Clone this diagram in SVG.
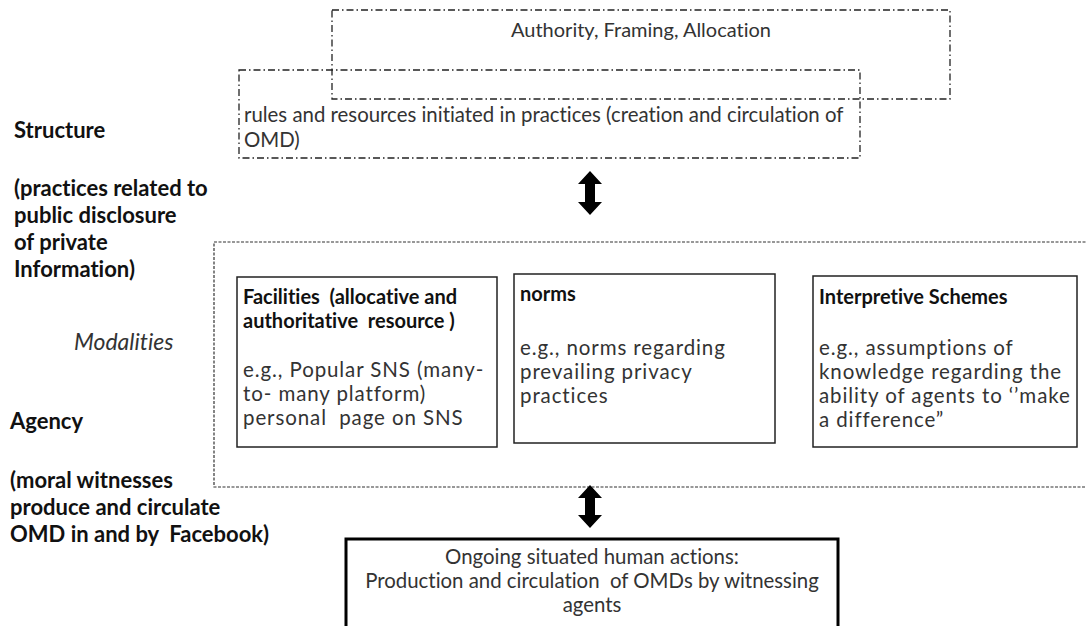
<svg xmlns="http://www.w3.org/2000/svg" width="1086" height="626" viewBox="0 0 1086 626">
<style>
text{font-family:Lato,"Open Sans","Liberation Sans",sans-serif;fill:#333;white-space:pre;font-variant-ligatures:none;font-feature-settings:"liga" 0,"dlig" 0;}
.t{font-size:20px;}
.r{font-size:20.4px;}
.bt{font-size:20.5px;letter-spacing:0.9px;}
.b{font-size:20px;font-weight:bold;fill:#111;}
.lb{font-size:22px;font-weight:bold;fill:#111;}
.it{font-size:23px;font-style:italic;}
.dd{fill:none;stroke:#222;stroke-width:1.3;stroke-dasharray:7 3 1.5 3;}
.dot{fill:none;stroke:#333;stroke-width:1.2;stroke-dasharray:3 1.5;}
.box{fill:#fff;stroke:#222;stroke-width:1.5;}
.thick{fill:#fff;stroke:#000;stroke-width:3;}
.arr{fill:#000;}
</style>
<g id="authority">
<rect class="dd" x="332" y="10" width="618" height="89"/>
<text class="t" x="641" y="37" text-anchor="middle">Authority, Framing, Allocation</text>
</g>
<g id="rules">
<rect class="dd" x="239" y="70" width="621" height="88"/>
<text class="r" x="244" y="122">rules and resources initiated in practices (creation and circulation of</text>
<text class="r" x="244" y="147">OMD)</text>
</g>
<g id="labels">
<text class="lb" x="14" y="138">Structure</text>
<text class="lb" x="14" y="196">(practices related to</text>
<text class="lb" x="14" y="223">public disclosure</text>
<text class="lb" x="14" y="250">of private</text>
<text class="lb" x="14" y="277">Information)</text>
<text class="it" x="74" y="350">Modalities</text>
<text class="lb" x="10" y="429">Agency</text>
<text class="lb" x="10" y="488">(moral witnesses</text>
<text class="lb" x="10" y="515">produce and circulate</text>
<text class="lb" x="10" y="542">OMD in and by  Facebook)</text>
</g>
<g id="modalities">
<path class="dot" d="M1090 242 H214 V487 H1090"/>
</g>
<g id="facilities">
<rect class="box" x="237" y="277" width="260" height="170"/>
<text class="b" x="243" y="304">Facilities  (allocative and</text>
<text class="b" x="243" y="328">authoritative  resource )</text>
<text class="bt" x="243" y="377">e.g., Popular SNS (many-</text>
<text class="bt" x="243" y="401">to- many platform)</text>
<text class="bt" x="243" y="425">personal  page on SNS</text>
</g>
<g id="norms">
<rect class="box" x="514" y="274" width="261" height="169"/>
<text class="b" x="520" y="301">norms</text>
<text class="bt" x="520" y="355">e.g., norms regarding</text>
<text class="bt" x="520" y="379">prevailing privacy</text>
<text class="bt" x="520" y="403">practices</text>
</g>
<g id="interpretive">
<rect class="box" x="813" y="276" width="264" height="171"/>
<text class="b" x="819" y="304">Interpretive Schemes</text>
<text class="bt" x="819" y="355">e.g., assumptions of</text>
<text class="bt" x="819" y="379">knowledge regarding the</text>
<text class="bt" x="819" y="403">ability of agents to ‘’make</text>
<text class="bt" x="819" y="427">a difference”</text>
</g>
<g id="actions">
<rect class="thick" x="346" y="539" width="492" height="92"/>
<text class="r" x="592" y="564" text-anchor="middle">Ongoing situated human actions:</text>
<text class="r" x="592" y="588" text-anchor="middle">Production and circulation  of OMDs by witnessing</text>
<text class="r" x="592" y="612" text-anchor="middle">agents</text>
</g>
<g id="connectors">
<path class="arr" d="M590 171 L602 184 H595 V202 H602 L590 215 L578 202 H585 V184 H578 Z"/>
<path class="arr" d="M590 485 L602 498 H595 V515 H602 L590 528 L578 515 H585 V498 H578 Z"/>
</g>
</svg>
